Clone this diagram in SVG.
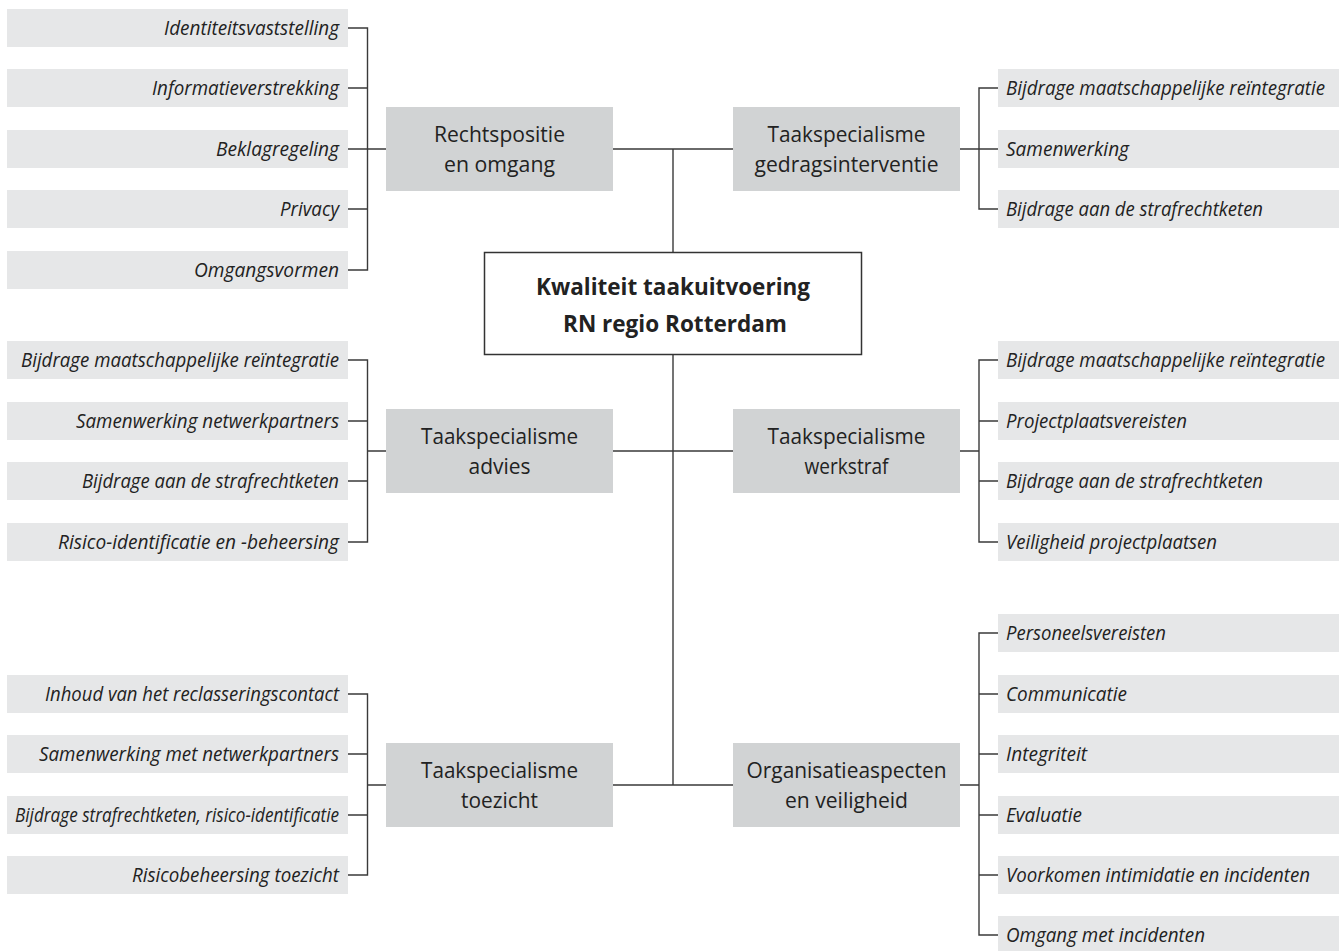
<svg xmlns="http://www.w3.org/2000/svg" width="1343" height="951" viewBox="0 0 1343 951">
<style>
.leaf{fill:#e6e7e8}
.grp{fill:#d1d3d4}
.lt{font-family:"Open Sans","Liberation Sans",sans-serif;font-style:italic;font-size:20px;fill:#222}
.ll{text-anchor:end}
.sm{font-size:19.3px}
.gt{font-family:"Open Sans","Liberation Sans",sans-serif;font-size:21px;fill:#222;text-anchor:middle}
.ct{font-family:"Open Sans","Liberation Sans",sans-serif;font-weight:bold;font-size:23.5px;fill:#222;text-anchor:middle}
.con{fill:none;stroke:#3a3a3a;stroke-width:1.4}
</style>
<rect width="1343" height="951" fill="#ffffff"/>
<g id="connectors" class="con">
<path d="M673,149V252M673,354V785M613,149H733M613,451H733M613,785H733"/>
<path d="M348,28H367.5V270H348M348,88H367.5M348,149H386M348,209H367.5"/>
<path d="M348,360H367.5V542H348M348,421H367.5M348,481H367.5M367.5,451H386"/>
<path d="M348,694H367.5V875H348M348,754H367.5M348,815H367.5M367.5,785H386"/>
<path d="M998,88H979V209H998M960,149H998"/>
<path d="M998,360H979V542H998M998,421H979M998,481H979M960,451H979"/>
<path d="M998,633H979V935H998M998,694H979M998,754H979M998,815H979M998,875H979M960,785H979"/>
</g>
<g id="center">
<rect x="484.5" y="252.5" width="377" height="102" fill="#ffffff" stroke="#333" stroke-width="1.5"/>
<text class="ct" x="673" y="295" textLength="274" lengthAdjust="spacingAndGlyphs">Kwaliteit taakuitvoering</text>
<text class="ct" x="675" y="331.5" textLength="224" lengthAdjust="spacingAndGlyphs">RN regio Rotterdam</text>
</g>
<g id="g-rechtspositie">
<rect class="grp" x="386" y="107" width="227" height="84"/>
<text class="gt" x="499.5" y="142" textLength="131" lengthAdjust="spacingAndGlyphs">Rechtspositie</text>
<text class="gt" x="499.5" y="172" textLength="111" lengthAdjust="spacingAndGlyphs">en omgang</text>
</g>
<g id="g-gedrag">
<rect class="grp" x="733" y="107" width="227" height="84"/>
<text class="gt" x="846.5" y="142" textLength="158" lengthAdjust="spacingAndGlyphs">Taakspecialisme</text>
<text class="gt" x="846.5" y="172" textLength="184" lengthAdjust="spacingAndGlyphs">gedragsinterventie</text>
</g>
<g id="g-advies">
<rect class="grp" x="386" y="409" width="227" height="84"/>
<text class="gt" x="499.5" y="444" textLength="157" lengthAdjust="spacingAndGlyphs">Taakspecialisme</text>
<text class="gt" x="499.5" y="474" textLength="62" lengthAdjust="spacingAndGlyphs">advies</text>
</g>
<g id="g-werkstraf">
<rect class="grp" x="733" y="409" width="227" height="84"/>
<text class="gt" x="846.5" y="444" textLength="158" lengthAdjust="spacingAndGlyphs">Taakspecialisme</text>
<text class="gt" x="846.5" y="474" textLength="84" lengthAdjust="spacingAndGlyphs">werkstraf</text>
</g>
<g id="g-toezicht">
<rect class="grp" x="386" y="743" width="227" height="84"/>
<text class="gt" x="499.5" y="778" textLength="157" lengthAdjust="spacingAndGlyphs">Taakspecialisme</text>
<text class="gt" x="499.5" y="808" textLength="77" lengthAdjust="spacingAndGlyphs">toezicht</text>
</g>
<g id="g-organisatie">
<rect class="grp" x="733" y="743" width="227" height="84"/>
<text class="gt" x="846.5" y="778" textLength="200" lengthAdjust="spacingAndGlyphs">Organisatieaspecten</text>
<text class="gt" x="846.5" y="808" textLength="123" lengthAdjust="spacingAndGlyphs">en veiligheid</text>
</g>
<g id="l1"><rect class="leaf" x="7" y="9" width="341" height="38"/><text class="lt ll" x="339" y="35" textLength="175" lengthAdjust="spacingAndGlyphs">Identiteitsvaststelling</text></g>
<g id="l2"><rect class="leaf" x="7" y="69" width="341" height="38"/><text class="lt ll" x="339" y="95" textLength="187" lengthAdjust="spacingAndGlyphs">Informatieverstrekking</text></g>
<g id="l3"><rect class="leaf" x="7" y="130" width="341" height="38"/><text class="lt ll" x="339" y="156" textLength="123" lengthAdjust="spacingAndGlyphs">Beklagregeling</text></g>
<g id="l4"><rect class="leaf" x="7" y="190" width="341" height="38"/><text class="lt ll" x="339" y="216" textLength="59" lengthAdjust="spacingAndGlyphs">Privacy</text></g>
<g id="l5"><rect class="leaf" x="7" y="251" width="341" height="38"/><text class="lt ll" x="339" y="277" textLength="145" lengthAdjust="spacingAndGlyphs">Omgangsvormen</text></g>
<g id="l6"><rect class="leaf" x="7" y="341" width="341" height="38"/><text class="lt ll" x="339" y="367" textLength="318" lengthAdjust="spacingAndGlyphs">Bijdrage maatschappelijke reïntegratie</text></g>
<g id="l7"><rect class="leaf" x="7" y="402" width="341" height="38"/><text class="lt ll" x="339" y="428" textLength="263" lengthAdjust="spacingAndGlyphs">Samenwerking netwerkpartners</text></g>
<g id="l8"><rect class="leaf" x="7" y="462" width="341" height="38"/><text class="lt ll" x="339" y="488" textLength="257" lengthAdjust="spacingAndGlyphs">Bijdrage aan de strafrechtketen</text></g>
<g id="l9"><rect class="leaf" x="7" y="523" width="341" height="38"/><text class="lt ll" x="339" y="549" textLength="281" lengthAdjust="spacingAndGlyphs">Risico-identificatie en -beheersing</text></g>
<g id="l10"><rect class="leaf" x="7" y="675" width="341" height="38"/><text class="lt ll" x="339" y="701" textLength="294" lengthAdjust="spacingAndGlyphs">Inhoud van het reclasseringscontact</text></g>
<g id="l11"><rect class="leaf" x="7" y="735" width="341" height="38"/><text class="lt ll" x="339" y="761" textLength="300" lengthAdjust="spacingAndGlyphs">Samenwerking met netwerkpartners</text></g>
<g id="l12"><rect class="leaf" x="7" y="796" width="341" height="38"/><text class="lt ll" x="339" y="822" textLength="324" lengthAdjust="spacingAndGlyphs">Bijdrage strafrechtketen, risico-identificatie</text></g>
<g id="l13"><rect class="leaf" x="7" y="856" width="341" height="38"/><text class="lt ll" x="339" y="882" textLength="207" lengthAdjust="spacingAndGlyphs">Risicobeheersing toezicht</text></g>
<g id="r1"><rect class="leaf" x="998" y="69" width="341" height="38"/><text class="lt sm" x="1006" y="95" textLength="319" lengthAdjust="spacingAndGlyphs">Bijdrage maatschappelijke reïntegratie</text></g>
<g id="r2"><rect class="leaf" x="998" y="130" width="341" height="38"/><text class="lt" x="1006" y="156" textLength="123" lengthAdjust="spacingAndGlyphs">Samenwerking</text></g>
<g id="r3"><rect class="leaf" x="998" y="190" width="341" height="38"/><text class="lt" x="1006" y="216" textLength="257" lengthAdjust="spacingAndGlyphs">Bijdrage aan de strafrechtketen</text></g>
<g id="r4"><rect class="leaf" x="998" y="341" width="341" height="38"/><text class="lt sm" x="1006" y="367" textLength="319" lengthAdjust="spacingAndGlyphs">Bijdrage maatschappelijke reïntegratie</text></g>
<g id="r5"><rect class="leaf" x="998" y="402" width="341" height="38"/><text class="lt" x="1006" y="428" textLength="181" lengthAdjust="spacingAndGlyphs">Projectplaatsvereisten</text></g>
<g id="r6"><rect class="leaf" x="998" y="462" width="341" height="38"/><text class="lt" x="1006" y="488" textLength="257" lengthAdjust="spacingAndGlyphs">Bijdrage aan de strafrechtketen</text></g>
<g id="r7"><rect class="leaf" x="998" y="523" width="341" height="38"/><text class="lt" x="1006" y="549" textLength="211" lengthAdjust="spacingAndGlyphs">Veiligheid projectplaatsen</text></g>
<g id="r8"><rect class="leaf" x="998" y="614" width="341" height="38"/><text class="lt" x="1006" y="640" textLength="160" lengthAdjust="spacingAndGlyphs">Personeelsvereisten</text></g>
<g id="r9"><rect class="leaf" x="998" y="675" width="341" height="38"/><text class="lt" x="1006" y="701" textLength="121" lengthAdjust="spacingAndGlyphs">Communicatie</text></g>
<g id="r10"><rect class="leaf" x="998" y="735" width="341" height="38"/><text class="lt" x="1006" y="761" textLength="81" lengthAdjust="spacingAndGlyphs">Integriteit</text></g>
<g id="r11"><rect class="leaf" x="998" y="796" width="341" height="38"/><text class="lt" x="1006" y="822" textLength="76" lengthAdjust="spacingAndGlyphs">Evaluatie</text></g>
<g id="r12"><rect class="leaf" x="998" y="856" width="341" height="38"/><text class="lt" x="1006" y="882" textLength="304" lengthAdjust="spacingAndGlyphs">Voorkomen intimidatie en incidenten</text></g>
<g id="r13"><rect class="leaf" x="998" y="916" width="341" height="38"/><text class="lt" x="1006" y="942" textLength="199" lengthAdjust="spacingAndGlyphs">Omgang met incidenten</text></g>
</svg>
